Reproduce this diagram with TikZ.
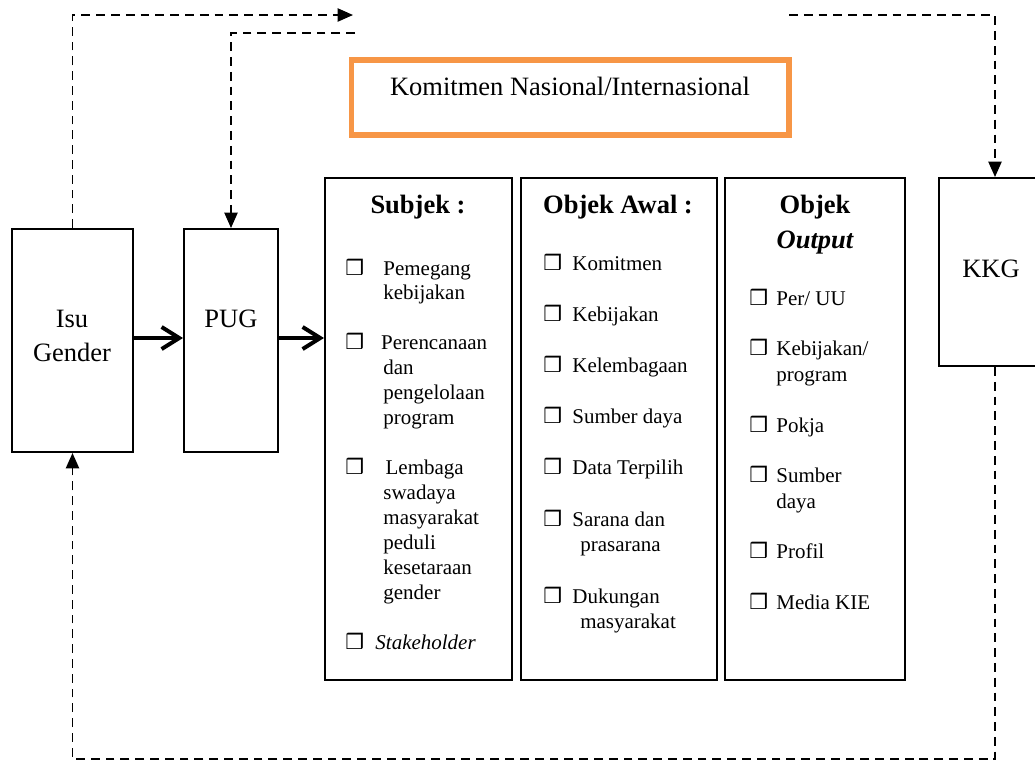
\documentclass[tikz,border=0pt]{standalone}
\usepackage{fontspec}
\setmainfont{Liberation Serif}
\newfontfamily\simbol{DejaVu Sans}
\usetikzlibrary{arrows.meta,fit}

\definecolor{oranye}{RGB}{247,150,70}
\newcommand{\cek}[1]{\makebox[#1][l]{\simbol\bfseries\fontsize{9.5}{9.5}\selectfont ❒}}

\begin{document}
\begin{tikzpicture}[x=0.4528pt,y=-0.4528pt,
    kotak/.style={draw,line width=0.9pt,inner sep=0pt,fit={#1}},
    bingkai/.style={draw=oranye,line width=2.7pt,inner sep=0pt,fit={#1}},
    besar/.style={font=\fontsize{12}{15.8}\selectfont,anchor=base,inner sep=0pt},
    judul/.style={font=\fontsize{12}{15.8}\selectfont\bfseries,anchor=base,inner sep=0pt},
    daftar/.style={font=\fontsize{9.5}{#1}\selectfont,anchor=base west,inner sep=0pt},
    putus/.style={line width=0.8pt,dash pattern=on 4pt off 2.7pt,-{Triangle[length=7pt,width=6pt]}},
    tebal/.style={line width=1.8pt,-{Straight Barb[length=8pt,width=10pt]}}]
    \useasboundingbox (0,0) rectangle (1035,760);

    % kotak utama
    \node[kotak={(12,229)(133,452)}] (isu) {};
    \node[kotak={(184,229)(278,452)}] (pug) {};
    \node[kotak={(939,178)(1051,366)}] (kkg) {};
    \node[bingkai={(351.5,60)(789,135)}] (komitmen) {};
    \node[kotak={(325,178)(512,680)}] (subjek) {};
    \node[kotak={(521,178)(717,680)}] (awal) {};
    \node[kotak={(725,178)(905,680)}] (output) {};

    \node[besar] (tisu) at (72,327) {\begin{tabular}[t]{@{}c@{}}Isu\\Gender\end{tabular}};
    \node[besar] (tpug) at (231,327) {PUG};
    \node[besar] (tkkg) at (991,277) {KKG};
    \node[besar] (tkomitmen) at (570,95) {Komitmen Nasional/Internasional};

    \node[judul] (jsubjek) at (418,213) {Subjek :};
    \node[judul] (jawal) at (618,213) {Objek Awal :};
    \node[judul] (joutput) at (815,213) {Objek};
    \node[judul] (joutput2) at (815,248) {\itshape Output};

    % isi daftar
    \node[daftar=11.3pt] (isisubjek) at (345,275) {\begin{tabular}[t]{@{}l@{}l@{}}
        \cek{17.2pt} & Pemegang\\ & kebijakan\\ & \\
        \cek{17.2pt} & \hspace{-1pt}Perencanaan\\ & dan\\ & pengelolaan\\ & program\\ & \\
        \cek{17.2pt} & \hspace{1pt}Lembaga\\ & swadaya\\ & masyarakat\\ & peduli\\ & kesetaraan\\ & gender\\ & \\
        \cek{17.2pt} & \hspace{-3.6pt}\textit{Stakeholder}
    \end{tabular}};
    \node[daftar=11.6pt] (isiawal) at (543,270) {\begin{tabular}[t]{@{}l@{}l@{}}
        \cek{13.1pt} & Komitmen\\ & \\
        \cek{13.1pt} & Kebijakan\\ & \\
        \cek{13.1pt} & Kelembagaan\\ & \\
        \cek{13.1pt} & Sumber daya\\ & \\
        \cek{13.1pt} & Data Terpilih\\ & \\
        \cek{13.1pt} & Sarana dan\\ & \hspace{3.6pt}prasarana\\ & \\
        \cek{13.1pt} & Dukungan\\ & \hspace{3.6pt}masyarakat
    \end{tabular}};
    \node[daftar=11.5pt] (isioutput) at (749,305) {\begin{tabular}[t]{@{}l@{}l@{}}
        \cek{12.2pt} & Per/ UU\\ & \\
        \cek{12.2pt} & Kebijakan/\\ & program\\ & \\
        \cek{12.2pt} & Pokja\\ & \\
        \cek{12.2pt} & Sumber\\ & daya\\ & \\
        \cek{12.2pt} & Profil\\ & \\
        \cek{12.2pt} & Media KIE
    \end{tabular}};

    % penghubung
    \coordinate (ujung1) at (353,15);
    \coordinate (pangkal2) at (355,33);
    \coordinate (pangkal3) at (789,15);
    \draw[putus] (isu.north) |- (ujung1);
    \draw[putus] (pangkal2) -| (pug.north);
    \draw[putus] (pangkal3) -| (kkg.north);
    \draw[putus] (kkg.south) -- ++(0,392) -| (isu.south);
    \draw[tebal] (isu.east |- 0,338) -- (pug.west |- 0,338);
    \draw[tebal] (pug.east |- 0,338) -- (subjek.west |- 0,338);
\end{tikzpicture}
\end{document}
